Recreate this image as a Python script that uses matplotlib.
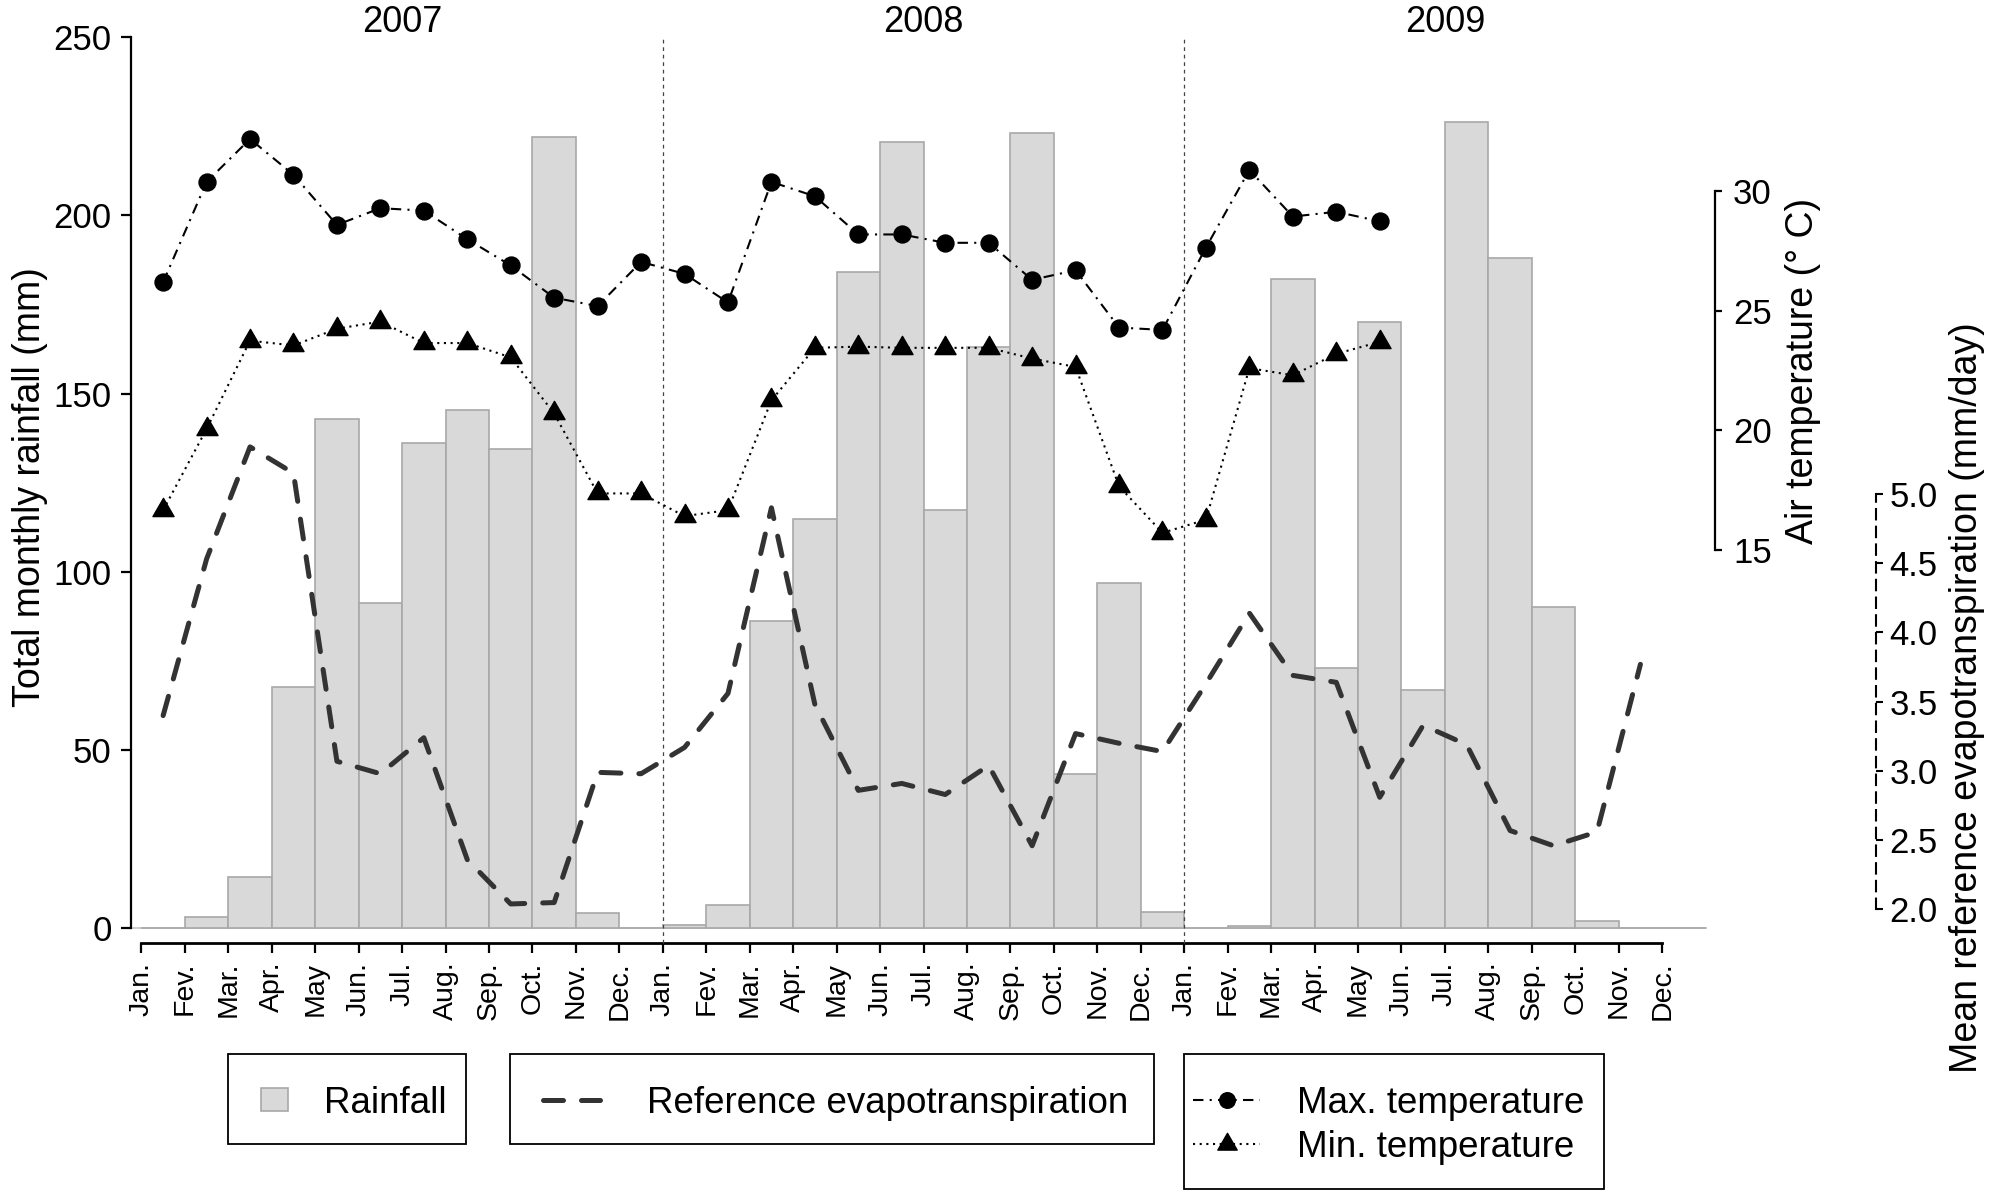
import numpy as np
import matplotlib
matplotlib.use("Agg")
import matplotlib.pyplot as plt
import matplotlib.transforms as mtransforms
from matplotlib.patches import Rectangle
from matplotlib.lines import Line2D
from matplotlib.path import Path

plt.rcParams['font.family'] = ['Liberation Sans', 'DejaVu Sans']

# ---------------- data ----------------
month_labels = ["Jan.", "Fev.", "Mar.", "Apr.", "May", "Jun.", "Jul.",
                "Aug.", "Sep.", "Oct.", "Nov.", "Dec."]
years = ["2007", "2008", "2009"]

rainfall_2007 = [0, 3.1, 14.4, 67.7, 142.9, 91.2, 136.0, 145.5, 134.5, 221.9, 4.3, 0]
rainfall_2008 = [0.8, 6.4, 86.2, 114.9, 184.0, 220.5, 117.3, 163.0, 223.0, 43.2, 96.9, 4.6]
rainfall_2009 = [0, 0.6, 182.3, 73.1, 170.2, 66.8, 226.2, 188.1, 90.2, 2.0, 0, 0]

tmax_2007 = [26.2, 30.4, 32.2, 30.7, 28.6, 29.3, 29.2, 28.0, 26.9, 25.55, 25.2, 27.05]
tmax_2008 = [26.55, 25.35, 30.4, 29.8, 28.2, 28.2, 27.85, 27.85, 26.3, 26.7, 24.3, 24.2]
tmax_2009 = [27.65, 30.9, 28.95, 29.15, 28.75, None, None, None, None, None, None, None]

tmin_2007 = [16.65, 20.05, 23.75, 23.55, 24.25, 24.55, 23.65, 23.65, 23.05, 20.7, 17.35, 17.35]
tmin_2008 = [16.4, 16.65, 21.25, 23.45, 23.5, 23.45, 23.45, 23.45, 23.0, 22.65, 17.65, 15.7]
tmin_2009 = [16.25, 22.6, 22.3, 23.2, 23.7, None, None, None, None, None, None, None]

et0_2007 = [3.40, 4.53, 5.34, 5.15, 3.07, 2.98, 3.24, 2.36, 2.04, 2.05, 2.99, 2.98]
et0_2008 = [3.17, 3.56, 4.90, 3.48, 2.86, 2.91, 2.83, 3.04, 2.46, 3.27, 3.20, 3.14]
et0_2009 = [3.63, 4.14, 3.69, 3.64, 2.81, 3.33, 3.19, 2.57, 2.46, 2.56, 3.77, None]

rain_ticks = [0, 50, 100, 150, 200, 250]
temp_ticks = [15, 20, 25, 30]
et_ticks = [2.0, 2.5, 3.0, 3.5, 4.0, 4.5, 5.0]


def to_arr(*parts):
    return np.array([np.nan if v is None else v for p in parts for v in p], dtype=float)


rain = to_arr(rainfall_2007, rainfall_2008, rainfall_2009)
tmax = to_arr(tmax_2007, tmax_2008, tmax_2009)
tmin = to_arr(tmin_2007, tmin_2008, tmin_2009)
et0 = to_arr(et0_2007, et0_2008, et0_2009)
n = len(rain)
xt = np.arange(n)          # month ticks (start of month)
xm = xt + 0.5              # month centres
labels = month_labels * len(years)

# ---------------- layout (pixels) ----------------
W, H = 2000, 1201
fig = plt.figure(figsize=(W / 100, H / 100), dpi=100)
fig.patch.set_facecolor("white")


def fx(px):
    return px / W


def fy(py):
    return 1 - py / H


L, R, B, T = 131, 1715, 943, 37.3
ax = fig.add_axes([fx(L), fy(B), (R - L) / W, (B - T) / H])
x0 = (L - 141.4) / 43.45
x1 = (R - 141.4) / 43.45
ax.set_xlim(x0, x1)
ax.set_ylim(-4.21, 250)

# bars
ax.bar(xm, rain, width=1.0, color="#d9d9d9", edgecolor="#a8a8a8",
       linewidth=1.2, zorder=2)
ax.plot([x0, n], [0, 0], color="#c8c8c8", lw=1.3, zorder=1, clip_on=False)

# year separators
for k in range(1, len(years)):
    ax.plot([12 * k, 12 * k], [-4.21, 250], color="#444444", lw=0.9,
            linestyle=(0, (3, 3)), zorder=3, clip_on=False)

# year labels
tr = mtransforms.blended_transform_factory(ax.transData, fig.transFigure)
for k, yr in enumerate(years):
    ax.text(12 * k + 6, fy(22.5), yr, transform=tr, ha="center", va="center",
            fontsize=26)

for s in ["top", "right"]:
    ax.spines[s].set_visible(False)
ax.spines["left"].set_bounds(0, 250)
ax.spines["bottom"].set_bounds(0, n - 1)
ax.spines["left"].set_linewidth(1.6)
ax.spines["bottom"].set_linewidth(2.0)
ax.set_yticks(rain_ticks)
ax.set_yticklabels([str(v) for v in rain_ticks])
ax.tick_params(axis="y", length=7, width=1.6, pad=7, labelsize=25)
ax.set_xticks(xt)
ax.set_xticklabels(labels, rotation=90)
ax.tick_params(axis="x", length=7, width=1.6, pad=6.5, labelsize=20.5)

# temperature axis
ax2 = ax.twinx()
ax2.set_ylim(-1.485, 36.46)
for s in ["top", "left", "bottom"]:
    ax2.spines[s].set_visible(False)
ax2.spines["right"].set_bounds(15, 30)
ax2.spines["right"].set_linewidth(1.6)
ax2.set_yticks(temp_ticks)
ax2.set_yticklabels([str(v) for v in temp_ticks])
ax2.tick_params(axis="y", length=5, width=1.6, pad=8, labelsize=25)

tri = Path([(0, 0.577), (-0.5, -0.289), (0.5, -0.289), (0, 0.577)],
           [Path.MOVETO, Path.LINETO, Path.LINETO, Path.CLOSEPOLY])
max_style = dict(color="black", lw=1.5, linestyle=(0, (5, 3, 1, 3)),
                 marker="o", ms=12.2, mfc="black", mec="black")
min_style = dict(color="black", lw=1.5, linestyle=(0, (1, 2.2)),
                 marker=tri, ms=17.5, mfc="black", mec="black")
ax2.plot(xm, tmax, zorder=5, **max_style)
ax2.plot(xm, tmin, zorder=5, **min_style)

# ET axis
ax3 = ax.twinx()
ax3.set_ylim(1.758, 8.297)
for s in ["top", "left", "bottom"]:
    ax3.spines[s].set_visible(False)
ax3.spines["right"].set_position(("axes", (1876 - L) / (R - L)))
ax3.spines["right"].set_bounds(2, 5)
ax3.spines["right"].set_linewidth(1.5)
ax3.spines["right"].set_linestyle((0, (5, 3.5)))
ax3.set_yticks(et_ticks)
ax3.set_yticklabels(["%.1f" % v for v in et_ticks])
ax3.tick_params(axis="y", length=5, width=1.5, pad=4.5, labelsize=25)

et_style = dict(color="#333333", lw=3.6, linestyle=(0, (4, 3.6)),
                dash_capstyle="round")
ax3.plot(xm, et0, zorder=4, **et_style)

# axis titles
fig.text(fx(30), fy(487), "Total monthly rainfall (mm)", rotation=90,
         ha="center", va="center", fontsize=27)
fig.text(fx(1803), fy(371), "Air temperature (° C)", rotation=90,
         ha="center", va="center", fontsize=27)
fig.text(fx(1967), fy(698), "Mean reference evapotranspiration (mm/day)",
         rotation=90, ha="center", va="center", fontsize=27)

# ---------------- legends ----------------
def box(x0p, y0p, x1p, y1p):
    fig.add_artist(Rectangle((fx(x0p), fy(y1p)), (x1p - x0p) / W, (y1p - y0p) / H,
                             transform=fig.transFigure, fill=False,
                             edgecolor="black", linewidth=1.3))

box(228, 1054, 466, 1144)
fig.add_artist(Rectangle((fx(261), fy(1111)), 27 / W, 23 / H,
                         transform=fig.transFigure, facecolor="#d9d9d9",
                         edgecolor="#a8a8a8", linewidth=1.2))
fig.text(fx(324), fy(1113), "Rainfall", ha="left", va="baseline", fontsize=26.5)

box(510, 1054, 1154, 1144)
fig.add_artist(Line2D([fx(543), fx(600)], [fy(1100), fy(1100)],
                      transform=fig.transFigure, **et_style))
fig.text(fx(647), fy(1113), "Reference evapotranspiration", ha="left",
         va="baseline", fontsize=26.5)

box(1184, 1054, 1604, 1189)
for yy, st, lab in [(1100, max_style, "Max. temperature"),
                    (1144, min_style, "Min. temperature")]:
    s2 = dict(st)
    s2.pop("marker"); s2.pop("ms"); s2.pop("mfc"); s2.pop("mec")
    fig.add_artist(Line2D([fx(1193), fx(1260)], [fy(yy), fy(yy)],
                          transform=fig.transFigure, **s2))
    fig.add_artist(Line2D([fx(1227)], [fy(yy)], transform=fig.transFigure,
                          linestyle="none", marker=st["marker"],
                          ms=st["ms"] * 0.92, mfc="black", mec="black"))
    fig.text(fx(1297), fy(yy + 13), lab, ha="left", va="baseline", fontsize=26.5)

fig.savefig("out.png", dpi=100, facecolor="white")
